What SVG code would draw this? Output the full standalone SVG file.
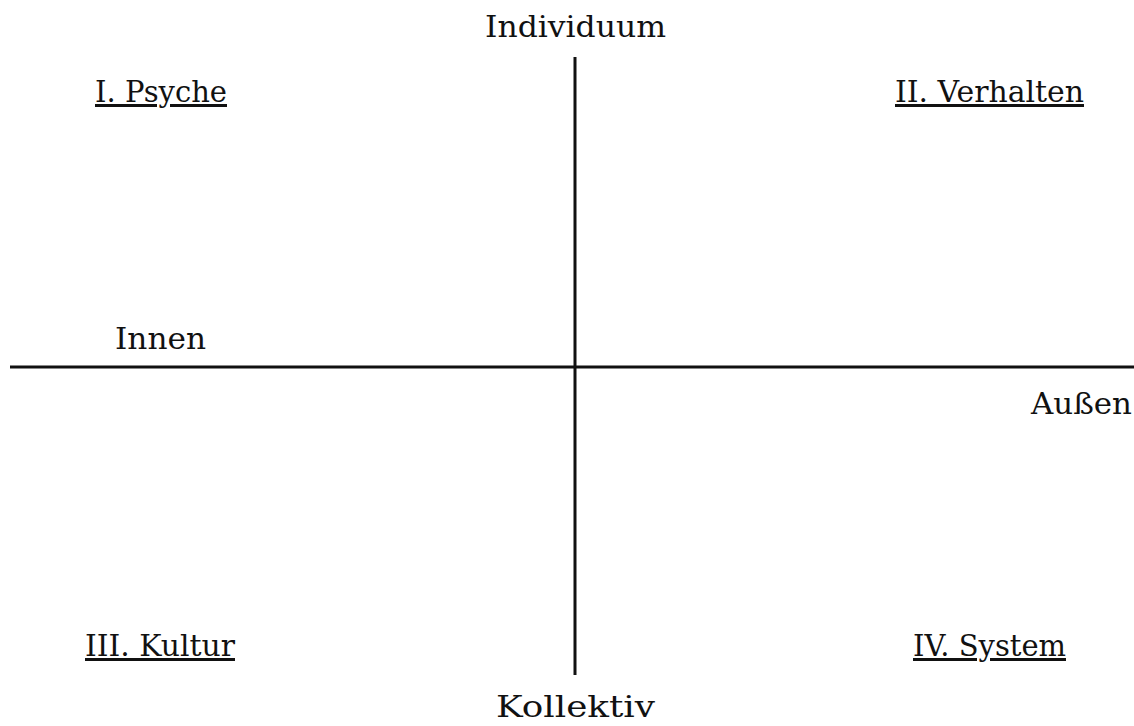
<svg xmlns="http://www.w3.org/2000/svg" width="1134" height="726" viewBox="0 0 1134 726">
<style>
text{font-family:"DejaVu Serif","Liberation Serif",serif;font-size:30px;fill:#111}
.u{text-decoration:underline}
.ax{stroke:#111;stroke-width:3;fill:none}
</style>
<rect width="1134" height="726" fill="#fff"/>
<g id="connectors">
<line class="ax" x1="575" y1="57" x2="575" y2="675"/>
<line class="ax" x1="10" y1="367" x2="1134" y2="367"/>
</g>
<g id="individuum"><text x="485" y="37" textLength="181" lengthAdjust="spacingAndGlyphs">Individuum</text></g>
<g id="kollektiv"><text x="496" y="717" textLength="159" lengthAdjust="spacingAndGlyphs">Kollektiv</text></g>
<g id="innen"><text x="115" y="349" textLength="91" lengthAdjust="spacingAndGlyphs">Innen</text></g>
<g id="aussen"><text x="1031" y="414" textLength="101" lengthAdjust="spacingAndGlyphs">Außen</text></g>
<g id="q1"><text class="u" x="95" y="102" textLength="132" lengthAdjust="spacingAndGlyphs">I. Psyche</text></g>
<g id="q2"><text class="u" x="895" y="102" textLength="189" lengthAdjust="spacingAndGlyphs">II. Verhalten</text></g>
<g id="q3"><text class="u" x="85" y="656" textLength="150" lengthAdjust="spacingAndGlyphs">III. Kultur</text></g>
<g id="q4"><text class="u" x="913" y="656" textLength="153" lengthAdjust="spacingAndGlyphs">IV. System</text></g>
</svg>
